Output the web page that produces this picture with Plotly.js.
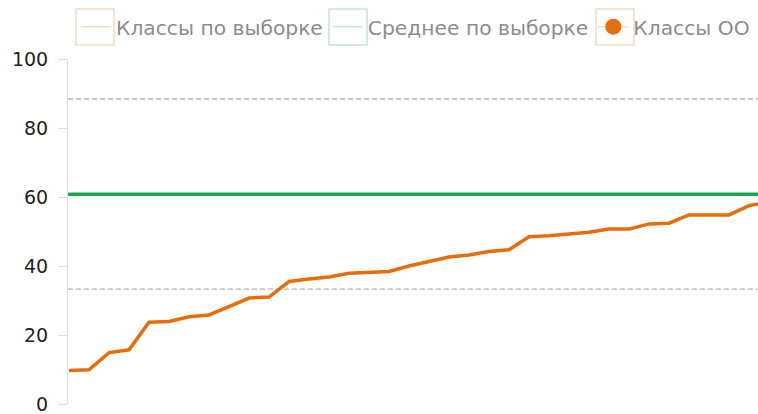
<!DOCTYPE html>
<html>
<head>
<meta charset="utf-8">
<script src="https://cdn.plot.ly/plotly-3.0.1.min.js"></script>
<style>html,body{margin:0;padding:0;background:#fff;}#chart{width:758px;height:414px;}</style>
</head>
<body>
<div id="chart"></div>
<script>
// Data
var classIndex = [1,2,3,4,5,6,7,8,9,10,11,12,13,14,15,16,17,18,19,20,21,22,23,24,25,26,27,28,29,30,31,32,33,34,35,36];
var classScores = [9.7,9.9,14.9,15.7,23.7,23.9,25.3,25.8,28.2,30.7,31.0,35.5,36.2,36.8,37.9,38.1,38.4,40.0,41.3,42.6,43.2,44.2,44.7,48.5,48.8,49.3,49.8,50.7,50.7,52.2,52.4,54.8,54.8,54.8,57.5,58.5];
var sampleMean = 60.8;
var sampleUpper = 88.4;
var sampleLower = 33.3;
var legendNames = ['Классы по выборке', 'Среднее по выборке', 'Классы ОО'];
var yTicks = [0, 20, 40, 60, 80, 100];

var FONT = 'DejaVu Sans, Verdana, sans-serif';
var ORANGE = '#e66d0c';
var GREEN = '#14a84f';

var traces = [
  {
    x: classIndex, y: classScores, type: 'scatter', mode: 'lines',
    line: {color: ORANGE, width: 3.5}, showlegend: false, hoverinfo: 'y'
  },
  // legend entries
  {x: [null], y: [null], type: 'scatter', mode: 'lines', name: legendNames[0],
   line: {color: '#f2dcc2', width: 1.5}},
  {x: [null], y: [null], type: 'scatter', mode: 'lines', name: legendNames[1],
   line: {color: '#c2e5dc', width: 1.5}},
  {x: [null], y: [null], type: 'scatter', mode: 'lines+markers', name: legendNames[2],
   line: {color: '#f2dcc2', width: 1.5}, marker: {color: ORANGE, size: 16}}
];

function hline(v, color, width, dash) {
  return {type: 'line', xref: 'paper', x0: 0, x1: 1, yref: 'y', y0: v, y1: v,
          line: {color: color, width: width, dash: dash}, layer: 'below'};
}
function legendBox(x0px, color) {
  return {type: 'rect', xref: 'paper', yref: 'paper',
          x0: (x0px - 68) / 690, x1: (x0px + 38 - 68) / 690,
          y0: (404 - 45) / 345, y1: (404 - 9) / 345,
          line: {color: color, width: 1.5}, fillcolor: 'rgba(0,0,0,0)'};
}

var layout = {
  width: 758, height: 414,
  margin: {l: 68, r: 0, t: 59, b: 10, pad: 0},
  paper_bgcolor: '#ffffff', plot_bgcolor: '#ffffff',
  font: {family: FONT, size: 19, color: '#222222'},
  showlegend: true,
  legend: {
    orientation: 'h', x: (76 - 68) / 690, xanchor: 'left',
    yref: 'container', y: 1 - 27 / 414, yanchor: 'middle',
    font: {family: FONT, size: 20.25, color: '#8c8c8c'},
    bgcolor: 'rgba(0,0,0,0)', borderwidth: 0, itemclick: false
  },
  xaxis: {
    range: [0.95, 35.45], showgrid: false, zeroline: false, showline: false,
    showticklabels: false, ticks: '', fixedrange: true
  },
  yaxis: {
    range: [0, 100], tickvals: yTicks, ticktext: yTicks.map(String),
    showgrid: false, zeroline: false, showline: true, linecolor: '#dedede', linewidth: 1,
    ticks: 'outside', ticklen: 9, tickcolor: '#dedede', tickwidth: 1,
    ticklabelstandoff: 6, ticklabeloverflow: 'allow',
    tickfont: {family: FONT, size: 19, color: '#222222'}, fixedrange: true
  },
  shapes: [
    hline(sampleUpper, '#c8c8c8', 1.8, '5px,3px'),
    hline(sampleLower, '#c8c8c8', 1.8, '5px,3px'),
    hline(sampleMean, GREEN, 3.5, 'solid'),
    legendBox(76, '#f2dcc2'),
    legendBox(329, '#c2e5dc'),
    legendBox(596, '#f2dcc2')
  ]
};

Plotly.newPlot('chart', traces, layout, {displayModeBar: false, staticPlot: true});
</script>
</body>
</html>
